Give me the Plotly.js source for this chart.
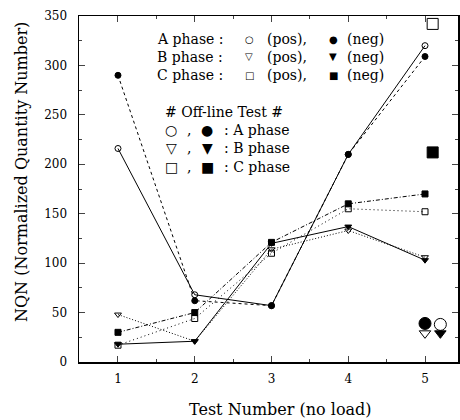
<!DOCTYPE html>
<html><head><meta charset="utf-8">
<script src="https://cdn.plot.ly/plotly-3.0.1.min.js"></script>
<style>html,body{margin:0;padding:0;background:#fff}</style>
</head><body><div id="chart" style="width:460px;height:420px"></div>
<script>
const tests = [1, 2, 3, 4, 5];
const aPos = [216, 68, 57, 210, 320];
const aNeg = [290, 62, 57, 210, 309];
const bPos = [48, 21, 114, 133, 106];
const bNeg = [18, 21, 120, 137, 103];
const cPos = [17, 44, 110, 155, 152];
const cNeg = [30, 50, 121, 160, 170];
// Off-line test points
const offAx = [5.0, 5.2];  const offAy = [39, 38];   // neg (filled), pos (open)
const offBx = [5.0, 5.2];  const offBy = [29, 29];   // pos (open), neg (filled)
const offCx = [5.1, 5.1];  const offCy = [342, 212]; // pos (open), neg (filled)

const F = "'DejaVu Serif', serif";
function tr(x, y, sym, dash, size) {
  return {x: x, y: y, type: 'scatter', mode: dash ? 'lines+markers' : 'markers',
    line: {color: '#000', width: 1, dash: dash || 'solid'},
    marker: {symbol: sym, size: size || 6, color: '#000', line: {color: '#000', width: 1}},
    cliponaxis: false, showlegend: false};
}
const data = [
  tr(tests, bPos, 'triangle-down-open', '1px,2px'),
  tr(tests, bNeg, 'triangle-down', 'solid'),
  tr(tests, cPos, 'square-open', '1px,3px'),
  tr(tests, cNeg, 'square', '4px,2px,1px,2px'),
  tr(tests, aNeg, 'circle', '3px,3px'),
  tr(tests, aPos, 'circle-open', 'solid'),
  tr([offAx[0]], [offAy[0]], 'circle', null, 12),
  tr([offAx[1]], [offAy[1]], 'circle-open', null, 12),
  tr([offBx[0]], [offBy[0]], 'triangle-down-open', null, 10),
  tr([offBx[1]], [offBy[1]], 'triangle-down', null, 10),
  tr([offCx[0]], [offCy[0]], 'square-open', null, 11),
  tr([offCx[1]], [offCy[1]], 'square', null, 11)
];
function px(v){return (v-79)/379;}
function py(v){return (362-v)/346;}
function ann(x, y, t, xa, size, extra){
  const a = {xref:'paper', yref:'paper', x:px(x), y:py(y), text:t, showarrow:false,
    xanchor: xa || 'left', yanchor:'middle', font:{family:F, size:size||14, color:'#000'}};
  return Object.assign(a, extra || {});
}
const rows = [[39,'A phase :','○','●'],[57,'B phase :','▽','▼'],[75,'C phase :','□','■']];
const anns = [];
rows.forEach(r => {
  anns.push(ann(155, r[0], r[1]));
  anns.push(ann(249, r[0], r[2], 'center', 10));
  anns.push(ann(265, r[0], '(pos),'));
  anns.push(ann(333, r[0], r[3], 'center', 10));
  anns.push(ann(345, r[0], '(neg)'));
});
anns.push(ann(163, 112, '# Off-line Test #'));
const rows2 = [[130,'○','●','A phase'],[148,'▽','▼','B phase'],[167,'□','■','C phase']];
rows2.forEach(r => {
  anns.push(ann(171, r[0], r[1], 'center', 14));
  anns.push(ann(189, r[0], ',', 'center'));
  anns.push(ann(207, r[0], r[2], 'center', 14));
  anns.push(ann(222, r[0], ': ' + r[3]));
});
// axis titles
anns.push({xref:'paper', yref:'paper', x:px(280), y:py(409), text:'Test Number (no load)', showarrow:false,
  xanchor:'center', yanchor:'middle', font:{family:F, size:16, color:'#000'}});
anns.push({xref:'paper', yref:'paper', x:px(21), y:py(172), text:'NQN (Normalized Quantity Number)', showarrow:false,
  textangle:-90, xanchor:'center', yanchor:'middle', font:{family:F, size:16, color:'#000'}});
const layout = {
  width: 460, height: 420,
  margin: {l: 79, r: 2, t: 16, b: 58},
  paper_bgcolor: '#fff', plot_bgcolor: '#fff',
  font: {family: F, size: 12, color: '#000'},
  xaxis: {range: [0.492, 5.43], tickvals: tests, ticks: 'inside', ticklen: 6, ticklabelstandoff: 5,
    showline: true, mirror: 'ticks', linecolor: '#000', linewidth: 1.5, showgrid: false, zeroline: false,
    minor: {dtick: 0.5, tick0: 0.5, ticks: 'inside', ticklen: 3, showgrid: false},
    tickfont: {family: F, size: 12}},
  yaxis: {range: [0, 350], dtick: 50, ticks: 'inside', ticklen: 6, ticklabelstandoff: 8,
    showline: true, mirror: 'ticks', linecolor: '#000', linewidth: 1.5, showgrid: false, zeroline: false,
    minor: {dtick: 25, ticks: 'inside', ticklen: 3, showgrid: false},
    tickfont: {family: F, size: 12}},
  annotations: anns
};
Plotly.newPlot('chart', data, layout, {staticPlot: true, displayModeBar: false});
</script></body></html>
